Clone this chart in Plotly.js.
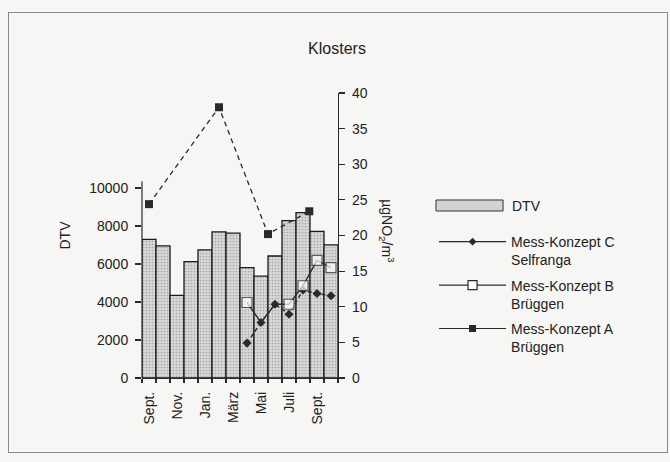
<!DOCTYPE html>
<html>
<head>
<meta charset="utf-8">
<script src="https://cdn.plot.ly/plotly-3.0.1.min.js"></script>
<style>
  html, body { margin: 0; padding: 0; background: #f6f6f4; }
  #frame { position: absolute; left: 8px; top: 12px; width: 658px; height: 439px; border: 1px solid #8a8a8a; }
  #chart { position: absolute; left: 0; top: 0; width: 670px; height: 462px; }
</style>
</head>
<body>
<div id="frame"></div>
<div id="chart"></div>
<script>
// Months (bar categories), Sept. to Okt. of the following year
const months = ['Sept.','Okt.','Nov.','Dez.','Jan.','Feb.','März','Apr.','Mai','Juni','Juli','Aug.','Sept.','Okt.'];
const monthPos = months.map((m, i) => i);
// DTV (daily traffic volume)
const dtv = [7300, 6950, 4350, 6130, 6740, 7690, 7620, 5810, 5360, 6420, 8280, 8700, 7720, 7010];
// Tick labels on the x axis
const tickPos = [0, 2, 4, 6, 8, 10, 12];
const tickLabels = ['Sept.', 'Nov.', 'Jan.', 'März', 'Mai', 'Juli', 'Sept.'];
// Left axis ticks
const leftTicks = [0, 2000, 4000, 6000, 8000, 10000];
const leftTickLabels = ['0', '2000', '4000', '6000', '8000', '10000'];
// Right axis ticks
const rightTicks = [0, 5, 10, 15, 20, 25, 30, 35, 40];
// Mess-Konzept C Selfranga (µg NO2/m3)
const cPos = [7, 8, 9, 10, 11, 12, 13];
const cVals = [4.9, 7.8, 10.35, 8.95, 12.35, 11.85, 11.55];
// Mess-Konzept B Brüggen
const bPos = [7, 8, 9, 10, 11, 12, 13];
const bVals = [10.6, 7.8, 10.35, 10.35, 12.95, 16.5, 15.5];
// Mess-Konzept A Brüggen
const aPos = [0, 5, 8.5, 11.45];
const aVals = [24.4, 38.0, 20.2, 23.4];

const boundaries = months.map((m, i) => i - 0.5).concat([months.length - 0.5]);

const font = { family: 'Liberation Sans, Arial, Helvetica, sans-serif', size: 14, color: '#222' };
const ink = '#2a2a2a';

const cName = 'Mess-Konzept C<br>Selfranga';
const bName = 'Mess-Konzept B<br>Brüggen';
const aName = 'Mess-Konzept A<br>Brüggen';

const traces = [
  {
    type: 'bar', name: 'DTV', x: monthPos, y: dtv, xaxis: 'x', yaxis: 'y',
    width: 1, showlegend: false,
    marker: {
      color: '#d3d3d3',
      line: { color: '#1a1a1a', width: 1.3 },
      pattern: { shape: '.', bgcolor: '#d8d8d8', fgcolor: '#a6a6a6', size: 3, solidity: 0.25 }
    }
  },
  {
    type: 'scatter', mode: 'lines+markers', name: cName,
    x: cPos, y: cVals, xaxis: 'x', yaxis: 'y2', showlegend: false,
    line: { color: ink, width: 1.4, dash: '4px,3px' },
    marker: { symbol: 'diamond', size: 7, color: ink }
  },
  {
    type: 'scatter', mode: 'lines+markers', name: bName,
    x: bPos, y: bVals, xaxis: 'x', yaxis: 'y2', showlegend: false,
    line: { color: ink, width: 1.4 },
    marker: { symbol: 'square', size: [10, 0, 0, 10, 10, 10, 10], color: '#ffffff', line: { color: ink, width: 1.2 } }
  },
  {
    type: 'scatter', mode: 'lines+markers', name: aName,
    x: aPos, y: aVals, xaxis: 'x', yaxis: 'y2', showlegend: false,
    line: { color: ink, width: 1.3, dash: '5px,4px' },
    marker: { symbol: 'square', size: 8, color: ink }
  },
  // legend entries (solid line keys as in the original legend)
  { type: 'scatter', mode: 'lines+markers', name: cName, x: [null], y: [null], xaxis: 'x', yaxis: 'y2',
    legend: 'legend2', legendgroup: 'c', line: { color: ink, width: 1.2 }, marker: { symbol: 'diamond', size: 6, color: ink } },
  { type: 'scatter', mode: 'lines+markers', name: bName, x: [null], y: [null], xaxis: 'x', yaxis: 'y2',
    legend: 'legend2', legendgroup: 'b', line: { color: ink, width: 1.2 },
    marker: { symbol: 'square', size: 9, color: '#ffffff', line: { color: ink, width: 1.2 } } },
  { type: 'scatter', mode: 'lines+markers', name: aName, x: [null], y: [null], xaxis: 'x', yaxis: 'y2',
    legend: 'legend2', legendgroup: 'a', line: { color: ink, width: 1.2 }, marker: { symbol: 'square', size: 7, color: ink } }
];

const layout = {
  width: 670, height: 462,
  paper_bgcolor: 'rgba(0,0,0,0)', plot_bgcolor: 'rgba(0,0,0,0)',
  margin: { l: 142, r: 332, t: 93, b: 84 },
  font: font,
  title: { text: 'Klosters', font: { family: font.family, size: 16, color: '#222' }, x: 0.503, xanchor: 'center', y: 0.896, yanchor: 'middle' },
  bargap: 0,
  showlegend: true,
  legend2: {
    x: 1.49, xanchor: 'left', y: 0.533, yanchor: 'top',
    bgcolor: 'rgba(0,0,0,0)', font: font, valign: 'top',
    itemwidth: 67, tracegroupgap: 4, traceorder: 'grouped'
  },
  xaxis: {
    range: [-0.5, months.length - 0.5], showgrid: false, zeroline: false,
    showline: true, linecolor: ink, linewidth: 1.2,
    tickmode: 'array', tickvals: tickPos, ticktext: tickLabels, ticks: '',
    tickangle: -90, ticklabelstandoff: 7, tickfont: font,
    minor: { tickmode: 'array', tickvals: boundaries, ticks: 'outside', ticklen: 4, tickcolor: ink, tickwidth: 1.2 }
  },
  yaxis: {
    range: [0, 15000], showgrid: false, zeroline: false, showline: false,
    tickmode: 'array', tickvals: leftTicks, ticktext: leftTickLabels, ticks: 'outside', ticklen: 6, tickcolor: ink, tickwidth: 1.2,
    tickfont: font, ticklabelstandoff: 4,
    title: { text: 'DTV', font: font, standoff: 15 }
  },
  yaxis2: {
    overlaying: 'y', side: 'right', range: [0, 40], showgrid: false, zeroline: false,
    showline: true, linecolor: ink, linewidth: 1.2,
    tickmode: 'array', tickvals: rightTicks, ticks: 'outside', ticklen: 6, tickcolor: ink, tickwidth: 1.2,
    tickfont: font, ticklabelstandoff: 4
  },
  yaxis3: {
    overlaying: 'y', side: 'left', range: [0, 15000], showgrid: false, zeroline: false, showline: false,
    tickmode: 'array', tickvals: leftTicks, ticks: 'inside', ticklen: 6, tickcolor: ink, tickwidth: 1.2,
    showticklabels: false
  },
  yaxis4: {
    overlaying: 'y', side: 'right', range: [0, 40], showgrid: false, zeroline: false, showline: false,
    tickmode: 'array', tickvals: rightTicks, ticks: 'inside', ticklen: 6, tickcolor: ink, tickwidth: 1.2,
    showticklabels: false
  },
  shapes: [
    // left axis line, drawn only up to just above the 10000 tick
    { type: 'line', xref: 'paper', x0: 0, x1: 0, yref: 'y', y0: 0, y1: 10350, line: { color: ink, width: 1.2 }, layer: 'above' },
    // DTV legend key
    { type: 'rect', xref: 'paper', yref: 'paper', x0: 1.5, x1: 1.842, y0: 0.586, y1: 0.6246,
      fillcolor: '#d3d3d3', line: { color: '#333', width: 1 } }
  ],
  annotations: [
    { text: 'µgNO<sub>2</sub>/m<sup>3</sup>', xref: 'paper', x: 1.25, yref: 'y2', y: 20.6, textangle: 90,
      showarrow: false, font: font, xanchor: 'center', yanchor: 'middle' },
    { text: 'DTV', xref: 'paper', x: 1.878, yref: 'paper', y: 0.6035, showarrow: false,
      font: font, xanchor: 'left', yanchor: 'middle' }
  ]
};

Plotly.newPlot('chart', traces, layout, { displayModeBar: false, staticPlot: true });
</script>
</body>
</html>
